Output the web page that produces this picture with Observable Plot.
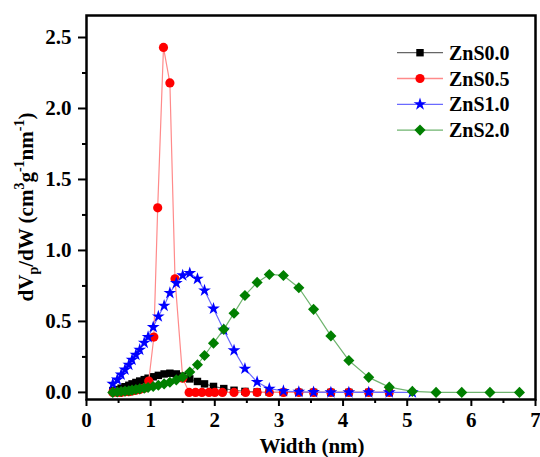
<!DOCTYPE html>
<html><head><meta charset="utf-8">
<script src="https://cdn.jsdelivr.net/npm/d3@7"></script>
<script src="https://cdn.jsdelivr.net/npm/@observablehq/plot@0.6"></script>
<style>body{margin:0;background:#fff;} svg{display:block;}</style>
</head><body><div id="chart"></div>
<script>
const seriesNames = ["ZnS0.0", "ZnS0.5", "ZnS1.0", "ZnS2.0"];

// pore widths (nm)
const widthGrid = [0.41,0.48,0.54,0.60,0.66,0.71,0.77,0.83,0.90,0.96,1.04,1.12,1.21,1.30,1.40,1.50,1.61,1.73,1.84,1.98,2.14,2.30,2.47,2.66,2.85,3.07,3.31,3.54,3.81,4.09,4.40,4.72,5.08,5.45,5.85,6.29,6.75];
const widthRed = [0.41,0.48,0.54,0.60,0.66,0.71,0.77,0.83,0.90,0.97,1.05,1.11,1.20,1.30,1.38,1.50,1.60,1.70,1.80,1.91,2.00,2.12,2.30,2.48,2.66,2.85,3.07,3.31,3.54,3.81,4.09,4.40,4.72];

// dVp/dW values
const valZnS00 = [0.012,0.02,0.03,0.04,0.05,0.06,0.07,0.08,0.09,0.10,0.11,0.12,0.13,0.135,0.13,0.115,0.095,0.077,0.06,0.042,0.027,0.015,0.007,0.003,0.001,0,0,0,0,0,0,0];
const valZnS05 = [0,0,0,0.005,0.005,0.01,0.015,0.02,0.03,0.08,0.39,1.30,2.43,2.18,0.80,0.10,0,0,0,0,0,0,0,0,0,0,0,0,0,0,0,0,0];
const valZnS10 = [0.06,0.09,0.125,0.16,0.195,0.23,0.265,0.30,0.35,0.39,0.46,0.535,0.61,0.70,0.77,0.824,0.84,0.80,0.718,0.59,0.44,0.296,0.167,0.073,0.026,0.01,0.004,0.002,0,0,0,0,0];
const valZnS20 = [0,0.003,0.006,0.009,0.012,0.016,0.02,0.025,0.03,0.035,0.042,0.05,0.06,0.072,0.088,0.108,0.143,0.195,0.26,0.347,0.444,0.558,0.683,0.775,0.831,0.824,0.737,0.585,0.398,0.225,0.106,0.037,0.007,0,0,0,0];

const xTicks = [0,1,2,3,4,5,6,7];
const xMinor = [0.5,1.5,2.5,3.5,4.5,5.5,6.5];
const yTicks = [0,0.5,1.0,1.5,2.0,2.5];
const yMinor = [0.25,0.75,1.25,1.75,2.25];

const colors = ["#000000", "#ff0000", "#0000ff", "#007f00"];
const lineColors = ["#666666", "#ff8a8a", "#6a6aff", "#6fb46f"];
const symbols = ["square", "circle", "star", "diamond2"];
const d3Symbols = [d3.symbolSquare, d3.symbolCircle, d3.symbolStar, d3.symbolDiamond2];
const radii = [4.2, 4.6, 4.0, 5.0];

const seriesData = [
  widthGrid.slice(0, valZnS00.length).map((w, i) => ({w, v: valZnS00[i]})),
  widthRed.map((w, i) => ({w, v: valZnS05[i]})),
  widthGrid.slice(0, valZnS10.length).map((w, i) => ({w, v: valZnS10[i]})),
  widthGrid.map((w, i) => ({w, v: valZnS20[i]}))
];

const marks = [];
seriesData.forEach((data, i) => {
  marks.push(Plot.line(data, {x: "w", y: "v", stroke: lineColors[i], strokeWidth: 1.2}));
  marks.push(Plot.dot(data, {x: "w", y: "v", symbol: symbols[i], r: radii[i], fill: colors[i], stroke: "none"}));
});

const FS = 21;
const plot = Plot.plot({
  width: 540,
  height: 457,
  marginTop: 15,
  marginLeft: 86,
  marginRight: 5,
  marginBottom: 58,
  style: {fontFamily: "'Liberation Serif', 'Times New Roman', serif", fontSize: FS + "px", fontWeight: "bold", color: "#000", background: "#fff"},
  x: {domain: [0, 7]},
  y: {domain: [-0.05, 2.655]},
  marks: [
    Plot.axisX({ticks: xTicks, tickSize: 7, tickPadding: 6, strokeWidth: 2, tickFormat: d => String(d), label: null}),
    Plot.axisX({ticks: xMinor, tickSize: 4, strokeWidth: 2, tickFormat: () => "", label: null}),
    Plot.axisY({ticks: yTicks, tickSize: 8, tickPadding: 7, strokeWidth: 2, tickFormat: d3.format(".1f"), label: null}),
    Plot.axisY({ticks: yMinor, tickSize: 4, strokeWidth: 2, tickFormat: () => "", label: null}),
    ...marks,
    Plot.frame({stroke: "#000", strokeWidth: 2.5})
  ]
});

document.getElementById("chart").appendChild(plot);

const svg = d3.select(plot);
const font = "'Liberation Serif', 'Times New Roman', serif";

// x-axis title
svg.append("text")
  .attr("x", 312).attr("y", 453)
  .attr("text-anchor", "middle")
  .attr("font-family", font).attr("font-size", FS).attr("font-weight", "bold")
  .text("Width (nm)");

// y-axis title with sub/superscripts
const yl = svg.append("text")
  .attr("transform", "translate(33,207) rotate(-90)")
  .attr("text-anchor", "middle")
  .attr("font-family", font).attr("font-size", FS).attr("font-weight", "bold");
yl.append("tspan").text("dV");
yl.append("tspan").attr("font-size", 14).attr("dy", 5).text("p");
yl.append("tspan").attr("dy", -5).text("/dW (cm");
yl.append("tspan").attr("font-size", 14).attr("dy", -9).text("3");
yl.append("tspan").attr("dy", 9).text("g");
yl.append("tspan").attr("font-size", 14).attr("dy", -9).text("-1");
yl.append("tspan").attr("dy", 9).text("nm");
yl.append("tspan").attr("font-size", 14).attr("dy", -9).text("-1");
yl.append("tspan").attr("dy", 9).text(")");

// legend
const lg = svg.append("g");
seriesNames.forEach((name, i) => {
  const g = lg.append("g").attr("transform", `translate(0,${52.7 + i * 25.8})`);
  g.append("line").attr("x1", 397).attr("x2", 443).attr("y1", 0).attr("y2", 0)
    .attr("stroke", lineColors[i]).attr("stroke-width", 1.3);
  g.append("path").attr("d", d3.symbol(d3Symbols[i], Math.PI * radii[i] * radii[i])())
    .attr("transform", "translate(420,0)").attr("fill", colors[i]);
  g.append("text").attr("x", 449).attr("dy", "0.35em")
    .attr("text-anchor", "start")
    .attr("font-family", font).attr("font-size", 20).attr("font-weight", "bold")
    .text(name);
});
</script>
</body></html>
